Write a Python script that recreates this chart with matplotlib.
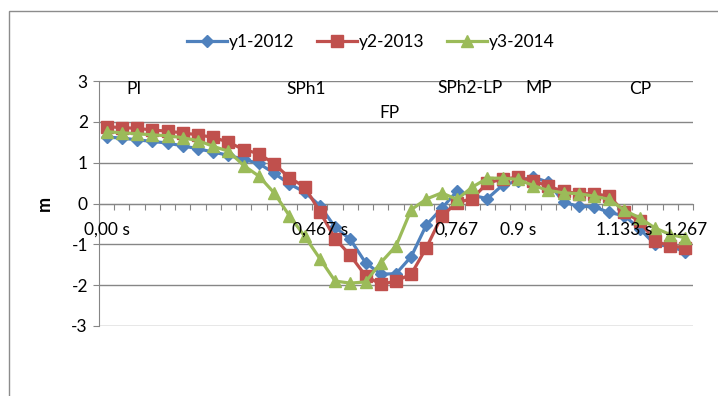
import matplotlib
matplotlib.use('Agg')

import matplotlib.pyplot as plt
from matplotlib.patches import Rectangle
import numpy as np

# time steps (30 frames/s), only some of them get a label
n_steps = 39
tick_labels = [''] * n_steps
tick_labels[0] = '0,00 s'
tick_labels[14] = '0,467 s'
tick_labels[23] = '0,767'
tick_labels[27] = '0.9 s'
tick_labels[34] = '1.133 s'
tick_labels[38] = '1.267'

y1_2012 = [1.63, 1.60, 1.56, 1.52, 1.48, 1.41, 1.34, 1.26, 1.18, 1.08,
           0.98, 0.74, 0.48, 0.28, -0.05, -0.58, -0.88, -1.45, -1.73, -1.72,
           -1.30, -0.52, -0.12, 0.30, 0.20, 0.12, 0.45, 0.55, 0.65, 0.52,
           0.03, -0.07, -0.08, -0.22, -0.30, -0.62, -1.00, -1.05, -1.18]
y2_2013 = [1.88, 1.86, 1.84, 1.80, 1.77, 1.73, 1.68, 1.62, 1.50, 1.32,
           1.22, 0.97, 0.63, 0.41, -0.20, -0.86, -1.27, -1.77, -1.98, -1.90,
           -1.73, -1.08, -0.31, 0.02, 0.12, 0.50, 0.60, 0.64, 0.56, 0.42,
           0.30, 0.24, 0.24, 0.18, -0.22, -0.43, -0.92, -1.04, -1.08]
y3_2014 = [1.76, 1.73, 1.71, 1.68, 1.66, 1.61, 1.54, 1.40, 1.28, 0.93,
           0.67, 0.26, -0.30, -0.80, -1.35, -1.90, -1.95, -1.92, -1.45, -1.04,
           -0.15, 0.11, 0.26, 0.10, 0.40, 0.62, 0.62, 0.59, 0.44, 0.32,
           0.26, 0.24, 0.18, 0.10, -0.17, -0.35, -0.60, -0.76, -0.84]

# phase names written over the chart: (text, step, value)
phases = [('PI', 1.3, 2.8), ('SPh1', 11.8, 2.8), ('FP', 17.9, 2.22),
          ('SPh2-LP', 21.7, 2.83), ('MP', 27.5, 2.83), ('CP', 34.3, 2.8)]

plt.rcParams['font.family'] = ['Lato', 'DejaVu Sans']
plt.rcParams['axes.unicode_minus'] = False
grey = '#868686'
fs = 12.5

fig = plt.figure(figsize=(7.18, 3.96), dpi=100)
ax = fig.add_axes([99 / 718, 1 - 326 / 396, 594 / 718, 245 / 396])

x = np.arange(n_steps)
ax.plot(x, y1_2012, color='#4F81BD', lw=2.3, marker='D', ms=6.5,
        label='y1-2012', zorder=3)
ax.plot(x, y2_2013, color='#C0504D', lw=2.3, marker='s', ms=8.5,
        label='y2-2013', zorder=4)
ax.plot(x, y3_2014, color='#9BBB59', lw=2.3, marker='^', ms=9,
        label='y3-2014', zorder=5)

for txt, px, py in phases:
    ax.text(px, py, txt, fontsize=fs, ha='left', va='center', zorder=6)

# category labels sit under the zero line, drawn on top of the series
for i, lab in enumerate(tick_labels):
    if lab:
        ax.text(i, -0.64, lab, fontsize=fs, ha='center', va='center',
                zorder=7)

ax.set_xlim(-0.5, n_steps - 0.5)
ax.set_ylim(-3, 3)
ax.set_yticks(np.arange(-3, 4, 1))
ax.yaxis.grid(True, color=grey, lw=1)
ax.set_axisbelow(True)

# category axis drawn at y = 0
ax.spines['bottom'].set_position(('data', 0))
ax.spines['bottom'].set_color(grey)
ax.spines['left'].set_color(grey)
ax.spines['top'].set_visible(False)
ax.spines['right'].set_visible(False)
ax.set_xticks(np.arange(-0.5, n_steps, 1))
ax.set_xticklabels([])
ax.tick_params(axis='x', direction='out', length=4, color=grey)
ax.tick_params(axis='y', direction='out', length=4, color=grey,
               labelsize=fs, pad=4)

ax.set_ylabel('m', fontsize=13, fontweight='bold')
ax.yaxis.set_label_coords(-0.077, 0.5)

fig.legend(loc='center', bbox_to_anchor=(371 / 718, 1 - 42 / 396), ncol=3,
           frameon=False, fontsize=fs, handlelength=2.3, handletextpad=0.1,
           columnspacing=1.3)

# chart area border (runs off the right and bottom edges)
fig.patches.append(Rectangle((9 / 718, -0.1), 2, 1.1 - 11 / 396,
                             transform=fig.transFigure, fill=False,
                             edgecolor='#8c8c8c', lw=1))

fig.savefig('out.png', dpi=100)
